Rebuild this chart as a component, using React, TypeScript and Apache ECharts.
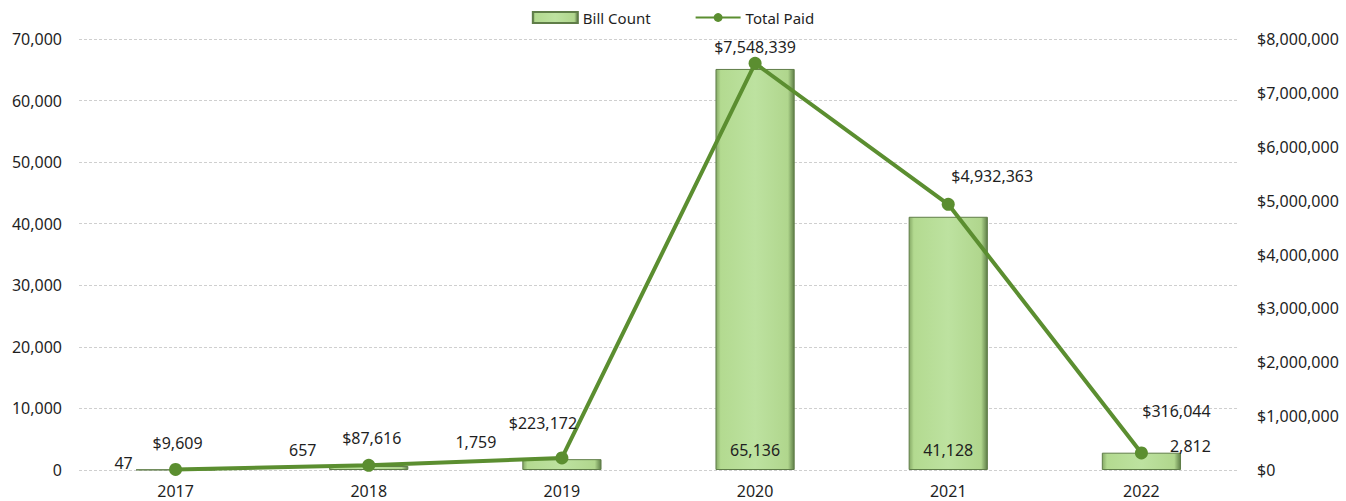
import React, { useEffect, useRef } from "react";
import * as echarts from "echarts";

const years = ["2017", "2018", "2019", "2020", "2021", "2022"];
const billCount = [47, 657, 1759, 65136, 41128, 2812];
const totalPaid = [9609, 87616, 223172, 7548339, 4932363, 316044];
const barLabelOffsets = [[-52, 6], [-66, -7], [-86, -15], [0, -7], [0, -7], [49, -11]];
const lineLabelOffsets = [[2, -26], [3, -27], [-19, -35], [0, -16], [44, -28], [35, -42]];

const FONT = "Noto Sans";
const TXT = "#1f1f1f";

function fmtNum(v: number) {
  return v.toLocaleString("en-US");
}

export default function App() {
  const ref = useRef<HTMLDivElement>(null);
  useEffect(() => {
    if (!ref.current) return;
    const chart = echarts.init(ref.current, undefined, { renderer: "svg" });
    const barFill = new echarts.graphic.LinearGradient(0, 0, 1, 0, [
      { offset: 0, color: "#86aa66" },
      { offset: 0.06, color: "#b3da90" },
      { offset: 0.5, color: "#bde2a0" },
      { offset: 0.92, color: "#b0d68d" },
      { offset: 1, color: "#5f7f48" },
    ]);
    chart.setOption({
      animation: false,
      textStyle: { fontFamily: FONT },
      legend: {
        top: 5,
        left: "center",
        itemGap: 44,
        itemWidth: 45,
        itemHeight: 11,
        textStyle: { fontFamily: FONT, fontSize: 15, color: TXT },
        data: [
          { name: "Bill Count", icon: "rect" },
          { name: "Total Paid" },
        ],
      },
      grid: { left: 79, right: 108, top: 39, bottom: 31, containLabel: false },
      xAxis: {
        type: "category",
        data: years,
        axisLine: { show: false },
        axisTick: { show: false },
        axisLabel: { margin: 13, fontSize: 16, fontFamily: FONT, color: TXT },
      },
      yAxis: [
        {
          type: "value",
          min: 0,
          max: 70000,
          interval: 10000,
          axisLine: { show: false },
          axisTick: { show: false },
          axisLabel: {
            margin: 17,
            fontSize: 16,
            fontFamily: FONT,
            color: TXT,
            formatter: (v: number) => fmtNum(v),
          },
          splitLine: { lineStyle: { color: "#cfcfcf", type: [3, 2], width: 1 } },
        },
        {
          type: "value",
          min: 0,
          max: 8000000,
          interval: 1000000,
          axisLine: { show: false },
          axisTick: { show: false },
          axisLabel: {
            margin: 19,
            fontSize: 16,
            fontFamily: FONT,
            color: TXT,
            formatter: (v: number) => "$" + fmtNum(v),
          },
          splitLine: { show: false },
        },
      ],
      series: [
        {
          name: "Bill Count",
          type: "bar",
          yAxisIndex: 0,
          barWidth: "41%",
          itemStyle: { color: barFill, borderColor: "#5f7d48", borderWidth: 1 },
          data: billCount.map((v, i) => ({
            value: v,
            label: {
              show: true,
              position: "insideBottom",
              offset: barLabelOffsets[i],
              formatter: () => fmtNum(v),
              fontSize: 16,
              fontFamily: FONT,
              color: TXT,
            },
          })),
          z: 2,
        },
        {
          name: "Total Paid",
          type: "line",
          yAxisIndex: 1,
          symbol: "circle",
          symbolSize: 13,
          lineStyle: { color: "#5b8e30", width: 4 },
          itemStyle: { color: "#5b8e30" },
          data: totalPaid.map((v, i) => ({
            value: v,
            label: {
              show: true,
              position: "inside",
              offset: lineLabelOffsets[i],
              formatter: () => "$" + fmtNum(v),
              fontSize: 16,
              fontFamily: FONT,
              color: TXT,
            },
          })),
          z: 3,
        },
      ],
    });
    return () => chart.dispose();
  }, []);
  return (
    <div
      ref={ref}
      style={{ position: "fixed", left: 0, top: 0, width: 1346, height: 501, background: "#fff" }}
    />
  );
}
